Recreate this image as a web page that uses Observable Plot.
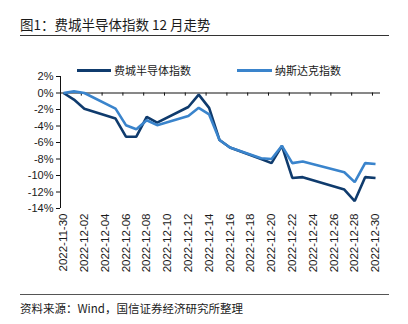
<!DOCTYPE html>
<html>
<head>
<meta charset="utf-8">
<script src="https://cdn.jsdelivr.net/npm/d3@7"></script>
<script src="https://cdn.jsdelivr.net/npm/@observablehq/plot@0.6"></script>
<style>
  html, body { margin: 0; padding: 0; background: #fff; }
  #wrap { position: relative; width: 408px; height: 324px; overflow: hidden; font-family: "Liberation Sans", "Noto Sans CJK SC", sans-serif; color: #1a1a1a; }
  #chart { position: absolute; left: 0; top: 0; }
  .abs { position: absolute; white-space: nowrap; }
  #title { left: 20px; top: 15px; font-size: 13.5px; font-family: "Noto Sans CJK SC", sans-serif; line-height: 18px; }
  #rule1 { left: 20px; top: 35px; width: 369px; height: 0; border-top: 1.2px solid #333; }
  #rule2 { left: 20px; top: 294px; width: 369px; height: 0; border-top: 1px solid #555; }
  #caption { left: 20px; top: 300px; font-size: 11.5px; font-family: "Noto Sans CJK SC", sans-serif; line-height: 16px; }
  .lg { font-size: 11px; font-family: "Noto Sans CJK SC", sans-serif; line-height: 14px; top: 63px; }
  .sw { height: 3px; top: 69px; }
</style>
</head>
<body>
<div id="wrap">
  <div id="chart"></div>
  <div class="abs" id="title">图1：费城半导体指数 12 月走势</div>
  <div class="abs" id="rule1"></div>
  <div class="abs sw" id="sw1" style="left:77px;width:34px;"></div>
  <div class="abs lg" id="lg1" style="left:114px;"></div>
  <div class="abs sw" id="sw2" style="left:237px;width:35px;"></div>
  <div class="abs lg" id="lg2" style="left:275px;"></div>
  <div class="abs" id="rule2"></div>
  <div class="abs" id="caption">资料来源：Wind，国信证券经济研究所整理</div>
</div>
<script>
const seriesNames = ["费城半导体指数", "纳斯达克指数"];
const seriesColors = ["#0f3b6d", "#3a84cc"];
const dates = ["2022-11-30","2022-12-01","2022-12-02","2022-12-05","2022-12-06","2022-12-07","2022-12-08","2022-12-09","2022-12-12","2022-12-13","2022-12-14","2022-12-15","2022-12-16","2022-12-19","2022-12-20","2022-12-21","2022-12-22","2022-12-23","2022-12-27","2022-12-28","2022-12-29","2022-12-30"];
const sox = [0,-0.8,-1.9,-3.1,-5.3,-5.3,-2.9,-3.6,-1.7,-0.2,-1.8,-5.7,-6.6,-8.0,-8.5,-6.4,-10.3,-10.2,-11.7,-13.1,-10.2,-10.3];
const ndx = [0,0.2,0.0,-1.9,-3.9,-4.4,-3.3,-3.9,-2.8,-1.8,-2.6,-5.7,-6.6,-7.9,-8.0,-6.4,-8.5,-8.3,-9.6,-10.8,-8.5,-8.6];
const xTickLabels = ["2022-11-30","2022-12-02","2022-12-04","2022-12-06","2022-12-08","2022-12-10","2022-12-12","2022-12-14","2022-12-16","2022-12-18","2022-12-20","2022-12-22","2022-12-24","2022-12-26","2022-12-28","2022-12-30"];
const yTicks = [2,0,-2,-4,-6,-8,-10,-12,-14];

const parse = d3.utcParse("%Y-%m-%d");
const fmt = d3.utcFormat("%Y-%m-%d");
const H = 3600 * 1000;
const xStart = new Date(+parse(dates[0]) - 7 * H);
const xEnd = new Date(+parse(dates[dates.length - 1]) + 11.5 * H);

const data = [];
dates.forEach((d, i) => {
  data.push({date: parse(d), value: sox[i], series: seriesNames[0]});
  data.push({date: parse(d), value: ndx[i], series: seriesNames[1]});
});
const tickDates = xTickLabels.map(parse);
const tickMarks = tickDates.slice(1).map(d => new Date(+d - 7 * H));

document.getElementById("sw1").style.background = seriesColors[0];
document.getElementById("sw2").style.background = seriesColors[1];
document.getElementById("lg1").textContent = seriesNames[0];
document.getElementById("lg2").textContent = seriesNames[1];

const chart = Plot.plot({
  width: 408,
  height: 290,
  marginTop: 76,
  marginBottom: 82,
  marginLeft: 60,
  marginRight: 28,
  style: {fontFamily: "'Liberation Sans', Arial, sans-serif", color: "#1a1a1a", background: "transparent"},
  x: {type: "utc", domain: [xStart, xEnd], label: null},
  y: {domain: [-14, 2], label: null},
  color: {domain: seriesNames, range: seriesColors},
  marks: [
    Plot.ruleY([0], {stroke: "#111", strokeWidth: 1}),
    Plot.ruleX(tickMarks, {x: d => d, y1: 0, y2: -0.38, stroke: "#111", strokeWidth: 1}),
    Plot.ruleX([xStart], {y1: -14, y2: 2, stroke: "#111", strokeWidth: 1}),
    Plot.axisY({ticks: yTicks, tickFormat: d => d + "%", tickSize: 4, tickPadding: 3, fontSize: 11, stroke: "#111", label: null}),
    Plot.axisX({ticks: tickDates, tickFormat: fmt, tickRotate: -90, tickSize: 0, tickPadding: 5, fontSize: 11.5, anchor: "bottom", label: null}),
    Plot.line(data, {x: "date", y: "value", z: "series", stroke: "series", strokeWidth: 2.6, strokeLinejoin: "miter", strokeLinecap: "butt"})
  ]
});
document.getElementById("chart").appendChild(chart);
</script>
</body>
</html>
